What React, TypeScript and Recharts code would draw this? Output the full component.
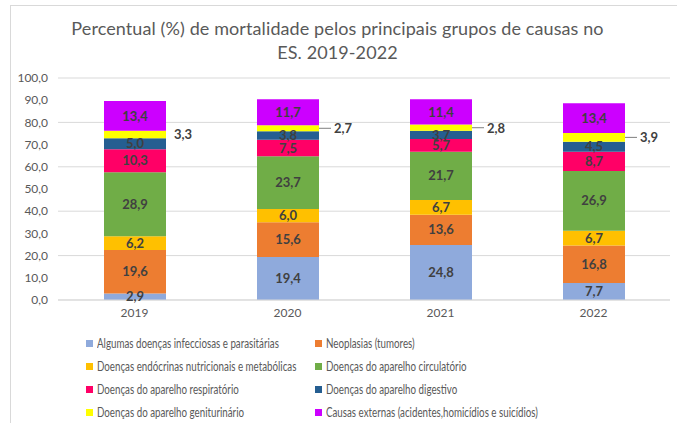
import React from 'react';
import { BarChart, Bar, XAxis, YAxis, CartesianGrid, LabelList } from 'recharts';

const years = ['2019', '2020', '2021', '2022'];

const infecciosas = [2.9, 19.4, 24.8, 7.7];
const neoplasias = [19.6, 15.6, 13.6, 16.8];
const endocrinas = [6.2, 6.0, 6.7, 6.7];
const circulatorio = [28.9, 23.7, 21.7, 26.9];
const respiratorio = [10.3, 7.5, 5.7, 8.7];
const digestivo = [5.0, 3.8, 3.7, 4.5];
const geniturinario = [3.3, 2.7, 2.8, 3.9];
const externas = [13.4, 11.7, 11.4, 13.4];

const yTicks = [0, 10, 20, 30, 40, 50, 60, 70, 80, 90, 100];

const series = [
  { key: 'infecciosas', name: 'Algumas doenças infecciosas e parasitárias', color: '#8faadc', values: infecciosas },
  { key: 'neoplasias', name: 'Neoplasias (tumores)', color: '#ed7d31', values: neoplasias },
  { key: 'endocrinas', name: 'Doenças endócrinas nutricionais e metabólicas', color: '#ffc000', values: endocrinas },
  { key: 'circulatorio', name: 'Doenças do aparelho circulatório', color: '#70ad47', values: circulatorio },
  { key: 'respiratorio', name: 'Doenças do aparelho respiratório', color: '#ff0066', values: respiratorio },
  { key: 'digestivo', name: 'Doenças do aparelho digestivo', color: '#255e91', values: digestivo },
  { key: 'geniturinario', name: 'Doenças do aparelho geniturinário', color: '#ffff00', values: geniturinario },
  { key: 'externas', name: 'Causas externas (acidentes,homicídios e suicídios)', color: '#cc00ff', values: externas },
];

const data = years.map((year, i) => {
  const row: any = { year };
  series.forEach(s => { row[s.key] = s.values[i]; });
  return row;
});

const FONT = 'Lato, "Open Sans", sans-serif';
const fmt = (v: any) => Number(v).toFixed(1).replace('.', ',');

// yellow slices are too thin, so their label sits to the right (with a leader line)
const SideLabel = (props: any) => {
  const { x, y, width, height, value, index } = props;
  const cy = y + height / 2;
  const right = x + width;
  const withLine = index > 0;
  return (
    <g>
      {withLine && <line x1={right} y1={cy} x2={right + 12} y2={cy} stroke="#7f7f7f" strokeWidth={1} />}
      <text x={right + (withLine ? 15 : 8)} y={cy} dominantBaseline="central" fill="#404040"
        fontSize={13} fontWeight="bold" fontFamily={FONT}>
        {fmt(value)}
      </text>
    </g>
  );
};

export default function App() {
  return (
    <div style={{ position: 'absolute', left: 0, top: 0, width: 677, height: 423, overflow: 'hidden', background: '#fff', fontFamily: FONT }}>
      <div style={{ position: 'absolute', left: 10, top: 5, width: 700, height: 440, borderLeft: '1px solid #d9d9d9', borderTop: '1px solid #d9d9d9' }} />
      <div style={{ position: 'absolute', left: 4, top: 16, width: 667, textAlign: 'center', color: '#595959', fontSize: 18, letterSpacing: 0.1, lineHeight: '24px' }}>
        Percentual (%) de mortalidade pelos principais grupos de causas no<br />ES. 2019-2022
      </div>
      <div style={{ position: 'absolute', left: 0, top: 0 }}>
        <BarChart width={677} height={423} data={data} margin={{ top: 78, right: 7, bottom: 93, left: 0 }} barSize={62}>
          <CartesianGrid vertical={false} stroke="#d9d9d9" />
          <XAxis dataKey="year" tickLine={false} axisLine={{ stroke: '#d9d9d9' }}
            tick={{ fill: '#595959', fontSize: 12, fontFamily: FONT }} />
          <YAxis width={58} domain={[0, 100]} ticks={yTicks} tickFormatter={fmt} tickLine={false} axisLine={false}
            tickMargin={4} tick={{ fill: '#595959', fontSize: 12, fontFamily: FONT }} />
          {series.map(s => (
            <Bar key={s.key} dataKey={s.key} name={s.name} stackId="a" fill={s.color} isAnimationActive={false}>
              {s.key === 'geniturinario'
                ? <LabelList dataKey={s.key} content={SideLabel} />
                : <LabelList dataKey={s.key} position="center" formatter={fmt} fill="#404040"
                    fontSize={13} fontWeight="bold" fontFamily={FONT} />}
            </Bar>
          ))}
        </BarChart>
      </div>
      <div style={{ position: 'absolute', left: 86, top: 334, display: 'grid', gridTemplateColumns: '229px 340px', rowGap: 5, columnGap: 0 }}>
        {series.map(s => (
          <div key={s.key} style={{ display: 'flex', alignItems: 'center', height: 18, color: '#595959', fontSize: 12.5, whiteSpace: 'nowrap' }}>
            <span style={{ width: 7, height: 7, flexShrink: 0, background: s.color, marginRight: 4, display: 'inline-block' }} />
            <span style={{ display: 'inline-block', transform: 'scaleX(0.78)', transformOrigin: 'left center' }}>{s.name}</span>
          </div>
        ))}
      </div>
    </div>
  );
}
